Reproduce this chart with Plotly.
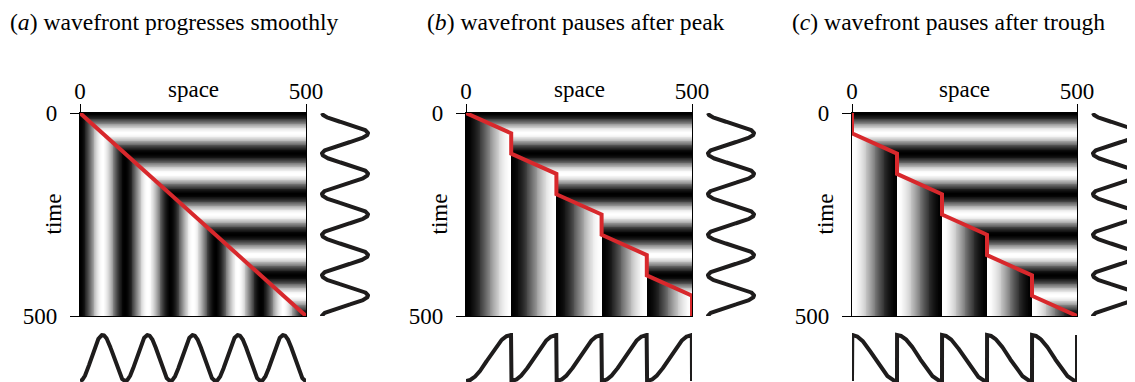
import numpy as np
import plotly.graph_objects as go

W, H = 1135, 382

# ---------------- data ----------------
titles = ["(<i>a</i>) wavefront progresses smoothly",
          "(<i>b</i>) wavefront pauses after peak",
          "(<i>c</i>) wavefront pauses after trough"]
space_ticks = [0, 500]
time_ticks = [0, 500]
x_label = "space"
y_label = "time"
period = 100  # stripes: 5 dark/light cycles over 0..500, dark at t=0

# red wavefront vertices (space, time)
front_a_x = [0, 500]
front_a_t = [0, 500]
front_b_x = [0, 100, 100, 200, 200, 300, 300, 400, 400, 500, 500]
front_b_t = [0, 50, 100, 150, 200, 250, 300, 350, 400, 450, 500]
front_c_x = [0, 0, 100, 100, 200, 200, 300, 300, 400, 400, 500]
front_c_t = [0, 50, 100, 150, 200, 250, 300, 350, 400, 450, 500]
# value the bottom trace jumps to at the right edge (None = no jump)
edge_jump = [None, -1, 1]

fronts = [(front_a_x, front_a_t), (front_b_x, front_b_t), (front_c_x, front_c_t)]

# ---------------- layout geometry (pixels, screen coords) ----------------
OFF = 8  # page body margin offset
hm_left = [80, 466, 852]
hm_right = [306, 692, 1077]
hm_top, hm_bot = 113, 316
RED = "#d8282c"
INK = "#1e1c1c"
FONT = "Liberation Serif"
FS = 23
FS_T = 23.6


def px_x(p):
    return (p - OFF) / W


def px_y(p):
    return 1 - (p - OFF) / H


def signal(t):
    return -np.cos(2 * np.pi * np.asarray(t, dtype=float) / period)


def arrival(xs, fx, ft):
    tt = np.linspace(0, 500, 20001)
    pos = np.interp(tt, ft, fx)
    idx = np.searchsorted(pos, xs, side="left")
    idx = np.clip(idx, 0, len(tt) - 1)
    return tt[idx]


fig = go.Figure()
layout = dict(
    template="none",
    width=W, height=H, margin=dict(l=0, r=0, t=0, b=0, pad=0, autoexpand=False),
    paper_bgcolor="white", plot_bgcolor="white", showlegend=False,
    annotations=[],
)

xc = np.arange(1, 500, 2)
tc = np.arange(1, 500, 2)

for k, (fx, ft) in enumerate(fronts):
    a_hm, a_r, a_b = 3 * k + 1, 3 * k + 2, 3 * k + 3
    # heatmap
    fpos = np.interp(tc, ft, fx)
    arr = arrival(xc, fx, ft)
    frozen = signal(arr)[None, :]
    live = signal(tc)[:, None]
    z = np.where(xc[None, :] < fpos[:, None], frozen, live)
    z = np.round(z, 3)
    fig.add_trace(go.Heatmap(
        x=xc, y=tc, z=z, zmin=-1, zmax=1,
        colorscale=[[0, "black"], [1, "white"]], showscale=False,
        xaxis=f"x{a_hm}", yaxis=f"y{a_hm}", hoverinfo="skip"))
    # wavefront
    fig.add_trace(go.Scatter(
        x=fx, y=ft, mode="lines", line=dict(color=RED, width=4),
        xaxis=f"x{a_hm}", yaxis=f"y{a_hm}", hoverinfo="skip"))
    # right wave (time signal)
    tw = np.linspace(0, 500, 1001)
    fig.add_trace(go.Scatter(
        x=signal(tw), y=tw, mode="lines", line=dict(color=INK, width=4),
        xaxis=f"x{a_r}", yaxis=f"y{a_r}", hoverinfo="skip"))
    # bottom wave (frozen pattern in space)
    xw = np.linspace(0, 500, 4001)
    yw = signal(arrival(xw, fx, ft))
    if edge_jump[k] is not None:
        xw = np.append(xw, 500)
        yw = np.append(yw, edge_jump[k])
    fig.add_trace(go.Scatter(
        x=xw, y=yw, mode="lines", line=dict(color=INK, width=4),
        xaxis=f"x{a_b}", yaxis=f"y{a_b}", hoverinfo="skip"))

    sfx = "" if a_hm == 1 else str(a_hm)
    hm_dom_x = [px_x(hm_left[k]), px_x(hm_right[k])]
    hm_dom_y = [px_y(hm_bot), px_y(hm_top)]
    layout[f"xaxis{sfx}"] = dict(
        domain=hm_dom_x, range=[0, 500], side="top", anchor=f"y{a_hm}",
        tickmode="array", tickvals=space_ticks, ticktext=[str(v) for v in space_ticks],
        ticks="outside", ticklen=8, tickwidth=1.3, tickcolor="black",
        showline=True, linecolor="black", linewidth=1.2, mirror=True,
        showgrid=False, zeroline=False, ticklabelstandoff=-4, automargin=False,
        tickfont=dict(family=FONT, size=FS, color="black"))
    layout[f"yaxis{a_hm}"] = dict(
        domain=hm_dom_y, range=[500, 0], anchor=f"x{a_hm}",
        tickmode="array", tickvals=time_ticks, ticktext=[str(v) for v in time_ticks],
        ticks="outside", ticklen=9, tickwidth=1.3, tickcolor="black",
        showline=True, linecolor="black", linewidth=1.2, mirror=True,
        showgrid=False, zeroline=False, ticklabelstandoff=8, automargin=False,
        tickfont=dict(family=FONT, size=FS, color="black"))
    # right wave axes
    left_c = hm_right[k] + 16
    right_c = hm_right[k] + 62
    scale = (right_c - left_c) / 2.0
    dom_l = left_c - 6
    dom_r = min(right_c + 6, W + OFF)
    layout[f"xaxis{a_r}"] = dict(
        domain=[px_x(dom_l), min(px_x(dom_r), 1.0)],
        range=[-1 - 6 / scale, -1 + (dom_r - left_c) / scale],
        anchor=f"y{a_r}", visible=False, automargin=False)
    layout[f"yaxis{a_r}"] = dict(
        domain=hm_dom_y, range=[500, 0], anchor=f"x{a_r}", visible=False,
        automargin=False)
    # bottom wave axes
    peak_c, trough_c = 335, 381
    bscale = (trough_c - peak_c) / 2.0
    dtop, dbot = 331, H + OFF
    layout[f"xaxis{a_b}"] = dict(
        domain=hm_dom_x, range=[0, 500], anchor=f"y{a_b}", visible=False,
        automargin=False)
    layout[f"yaxis{a_b}"] = dict(
        domain=[max(px_y(dbot), 0.0), px_y(dtop)],
        range=[1 - (dbot - peak_c) / bscale, 1 + (peak_c - dtop) / bscale],
        anchor=f"x{a_b}", visible=False, automargin=False)

    # text
    layout["annotations"].append(dict(
        text=x_label, xref=f"x{a_hm}", x=250, yref="paper", y=px_y(90),
        xanchor="center", yanchor="middle", showarrow=False,
        font=dict(family=FONT, size=FS, color="black")))
    layout["annotations"].append(dict(
        text=y_label, xref="paper", x=px_x(hm_left[k] - 27), yref="paper",
        y=px_y((hm_top + hm_bot) / 2), textangle=-90,
        xanchor="center", yanchor="middle", showarrow=False,
        font=dict(family=FONT, size=FS, color="black")))

title_x = [8, 425, 790]
for k, t in enumerate(titles):
    layout["annotations"].append(dict(
        text=t, xref="paper", x=px_x(title_x[k]), yref="paper", y=px_y(22),
        xanchor="left", yanchor="middle", showarrow=False,
        font=dict(family=FONT, size=FS_T, color="black")))

fig.update_layout(**layout)
fig.write_html("out.html")
